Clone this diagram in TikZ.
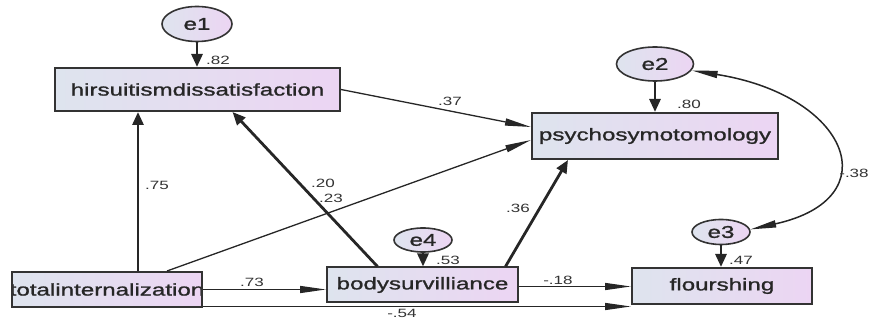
\documentclass[tikz,border=0pt]{standalone}
\usepackage{fontspec}
\usepackage{xcolor}
\usetikzlibrary{shapes.geometric,arrows.meta,calc}

\newfontfamily\amosfont{Liberation Sans}[FakeStretch=1.42, FakeBold=1.2]
\newfontfamily\coeffont{Liberation Sans}[FakeStretch=1.42]
\definecolor{varleft}{RGB}{222,228,238}
\definecolor{varright}{RGB}{236,213,243}

\tikzset{
    vartext/.style={text=black!85, font=\amosfont\fontsize{17}{20}\selectfont},
    var/.style={vartext, draw=black!80, line width=2pt, left color=varleft, right color=varright, inner sep=0pt},
    err/.style={vartext, ellipse, draw=black!80, line width=1.6pt, left color=varleft, right color=varright, inner sep=0pt},
    coef/.style={text=black!80, font=\coeffont\fontsize{12}{14}\selectfont, inner sep=0pt},
    heavy/.style={draw=black!85, line width=2.8pt, -{Triangle[length=13pt,width=11pt]}},
    light/.style={draw=black!85, line width=1.3pt, -{Triangle[length=26pt,width=7pt]}},
}

\begin{document}
\begin{tikzpicture}[x=1pt,y=-1pt]
    \useasboundingbox (0,0) rectangle (871,320);

    % Observed variables
    \node[var, minimum width=285pt, minimum height=43pt] (hirs) at (197.5,89.5) {hirsuitismdissatisfaction};
    \node[var, minimum width=246pt, minimum height=46pt] (psych) at (655,136) {psychosymotomology};
    \node[var, minimum width=190pt, minimum height=35pt,
          path picture={\node[vartext, inner sep=0pt] at (path picture bounding box.center) {totalinternalization};}] (totint) at (107,289.5) {};
    \node[var, minimum width=191pt, minimum height=35pt] (bsurv) at (422.5,285) {bodysurvilliance};
    \node[var, minimum width=180pt, minimum height=36pt] (flour) at (722,286) {flourshing};

    % Error terms
    \node[err, minimum width=70pt, minimum height=35pt] (e1) at (197,24) {e1};
    \node[err, minimum width=77pt, minimum height=34pt] (e2) at (655,64) {e2};
    \node[err, minimum width=58pt, minimum height=25pt] (e3) at (721,232) {e3};
    \node[err, minimum width=58pt, minimum height=24pt] (e4) at (423,240) {e4};

    % Error paths
    \draw[heavy] (e1.south) -- (e1.south |- hirs.north);
    \draw[heavy] (e2.south) -- (e2.south |- psych.north);
    \draw[heavy] (e3.south) -- (e3.south |- flour.north);
    \draw[heavy] (e4.south) -- (e4.south |- bsurv.north);

    % Structural paths
    \draw[heavy] ($(totint.north)+(31,0)$) -- ($(hirs.south)+(-59.5,0)$);
    \draw[heavy] ($(bsurv.north)+(-45,0)$) -- ($(hirs.south)+(35,0)$);
    \draw[heavy] ($(bsurv.north)+(83,0)$) -- ($(psych.south)+(-87,0)$);
    \draw[light] (hirs.east) -- ($(psych.west)+(0,-9)$);
    \draw[light] ($(totint.north)+(60,0)$) -- ($(psych.west)+(0,4)$);
    \draw[light] (totint.east) -- (totint.east -| bsurv.west);
    \draw[light] ($(bsurv.east)+(0,1.5)$) -- ($(bsurv.east -| flour.west)+(0,1.5)$);
    \draw[light] ($(totint.east |- flour.south)+(0,1.5)$) -- ($(flour.south west)+(0,1.5)$);

    % Covariance
    \draw[draw=black!85, line width=1.5pt, {Triangle[length=26pt,width=7pt]}-{Triangle[length=26pt,width=7pt]}]
        (e2.-10) .. controls +(157,25) and +(140,-31) .. (e3.5);

    % Labels
    \node[coef] (c82) at (218,60) {.82};
    \node[coef] (c80) at (689,104) {.80};
    \node[coef] (c53) at (448,260) {.53};
    \node[coef] (c47) at (741,260) {.47};
    \node[coef] (c37) at (450,101) {.37};
    \node[coef] (c75) at (157,185) {.75};
    \node[coef] (c20) at (323,183) {.20};
    \node[coef] (c23) at (331,198) {.23};
    \node[coef] (c36) at (518,208) {.36};
    \node[coef] (c73) at (252,282) {.73};
    \node[coef] (c18) at (558,280) {-.18};
    \node[coef] (c54) at (402,313) {-.54};
    \node[coef] (c38) at (854,173) {-.38};
\end{tikzpicture}
\end{document}
